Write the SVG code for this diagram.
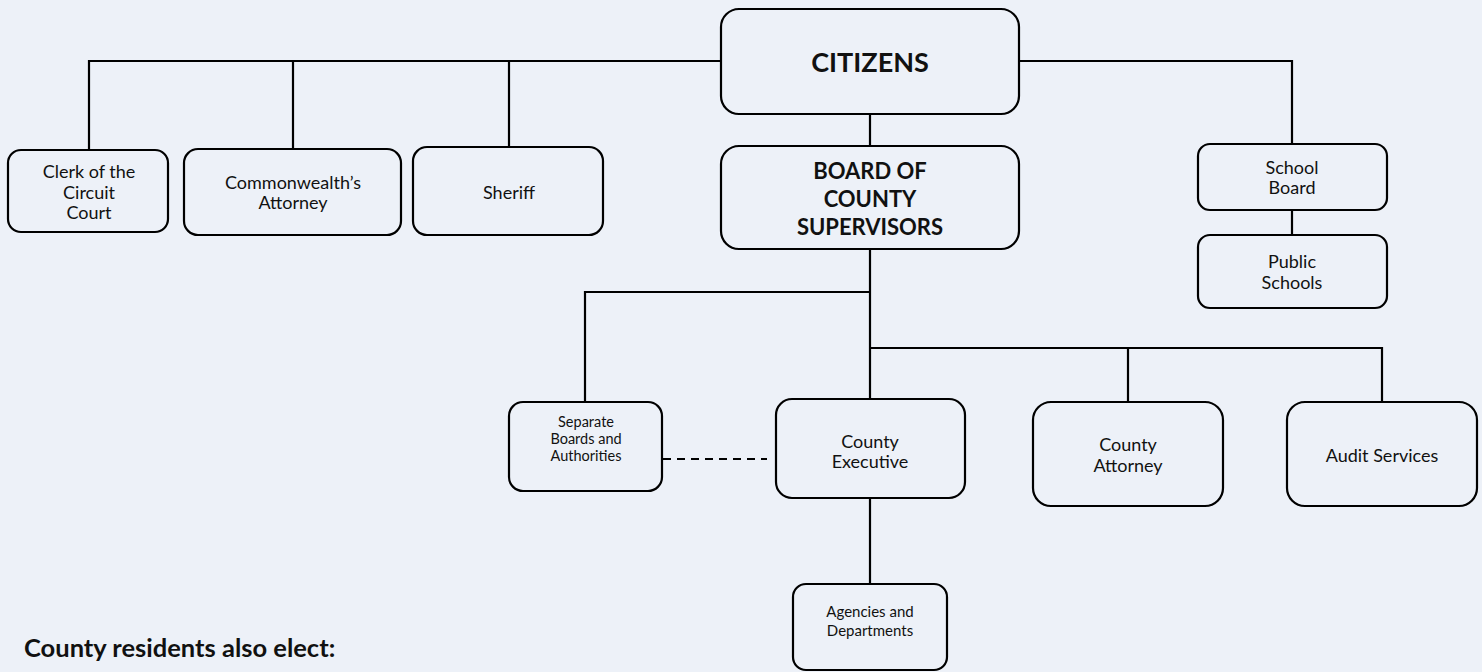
<svg xmlns="http://www.w3.org/2000/svg" width="1482" height="672" viewBox="0 0 1482 672">
<style>
.bx{fill:#edf1f8;stroke:#000;stroke-width:2.2}
.ln{fill:none;stroke:#000;stroke-width:2.2}
.dash{fill:none;stroke:#000;stroke-width:2;stroke-dasharray:8 6}
text{font-family:Lato,"Liberation Sans",sans-serif;fill:#111;text-anchor:middle}
.b{font-weight:bold}
.m{font-size:18px}
.s{font-size:14.5px}
</style>
<rect width="1482" height="672" fill="#edf1f8"/>
<g id="connectors">
<path class="ln" d="M89 150V61H721M293 61V149M509 61V147"/>
<path class="ln" d="M1019 61H1292V144M1292 210V235"/>
<path class="ln" d="M870 114V146M870 249V399M585 402V292H870"/>
<path class="ln" d="M870 348H1382V402M1128 348V402M870 498V584"/>
<path class="dash" d="M663 459H767"/>
</g>
<g id="citizens"><rect class="bx" x="721" y="9" width="298" height="105" rx="18"/><text class="b" x="870" y="72" font-size="27">CITIZENS</text></g>
<g id="board"><rect class="bx" x="721" y="146" width="298" height="103" rx="18"/><text class="b" x="870" y="179" font-size="22">BOARD OF</text><text class="b" x="870" y="207" font-size="22">COUNTY</text><text class="b" x="870" y="234.5" font-size="22">SUPERVISORS</text></g>
<g id="clerk"><rect class="bx" x="8" y="150" width="160" height="82" rx="13"/><text class="m" x="89" y="177.5">Clerk of the</text><text class="m" x="89" y="199">Circuit</text><text class="m" x="89" y="219">Court</text></g>
<g id="commonwealth"><rect class="bx" x="184" y="149" width="217" height="86" rx="14"/><text class="m" x="293" y="189">Commonwealth’s</text><text class="m" x="293" y="209">Attorney</text></g>
<g id="sheriff"><rect class="bx" x="413" y="147" width="190" height="88" rx="14"/><text class="m" x="509" y="198.5">Sheriff</text></g>
<g id="school-board"><rect class="bx" x="1198" y="144" width="189" height="66" rx="12"/><text class="m" x="1292" y="174">School</text><text class="m" x="1292" y="194">Board</text></g>
<g id="public-schools"><rect class="bx" x="1198" y="235" width="189" height="73" rx="12"/><text class="m" x="1292" y="268">Public</text><text class="m" x="1292" y="289">Schools</text></g>
<g id="separate"><rect class="bx" x="509" y="402" width="153" height="89" rx="14"/><text class="s" x="586" y="427">Separate</text><text class="s" x="586" y="443.5">Boards and</text><text class="s" x="586" y="460.5">Authorities</text></g>
<g id="county-executive"><rect class="bx" x="776" y="399" width="189" height="99" rx="16"/><text class="m" x="870" y="447.5">County</text><text class="m" x="870" y="468">Executive</text></g>
<g id="county-attorney"><rect class="bx" x="1033" y="402" width="190" height="104" rx="18"/><text class="m" x="1128" y="450.5">County</text><text class="m" x="1128" y="471.5">Attorney</text></g>
<g id="audit"><rect class="bx" x="1287" y="402" width="190" height="104" rx="18"/><text class="m" x="1382" y="461.5">Audit Services</text></g>
<g id="agencies"><rect class="bx" x="793" y="584" width="154" height="86" rx="13"/><text x="870" y="617" font-size="15">Agencies and</text><text x="870" y="635.5" font-size="15">Departments</text></g>
<text class="b" x="24" y="657" font-size="25.5" style="text-anchor:start">County residents also elect:</text>
</svg>
